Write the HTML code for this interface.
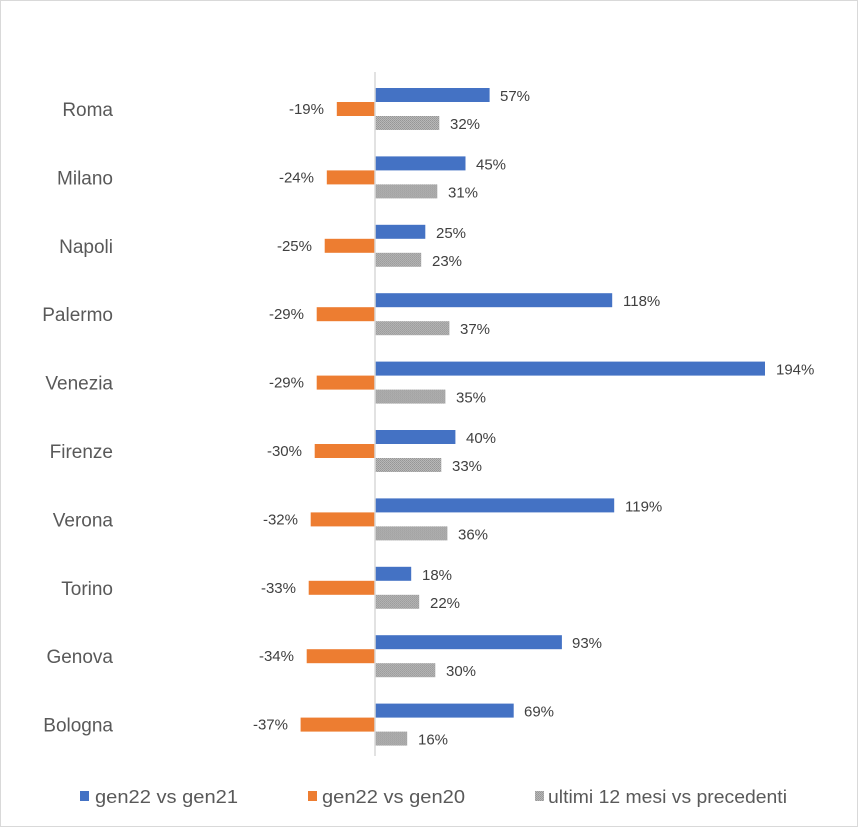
<!DOCTYPE html>
<html><head><meta charset="utf-8"><style>
html,body{margin:0;padding:0;background:#fff}
svg{display:block;font-family:"Liberation Sans",sans-serif}
.c{font-size:19px;fill:#595959;text-anchor:end}
.v{font-size:15px;fill:#404040}
.o{font-size:15px;fill:#404040;text-anchor:end}
.l{font-size:18px;fill:#595959}
</style></head><body>
<svg width="859" height="828" viewBox="0 0 859 828" xmlns="http://www.w3.org/2000/svg">
<defs>
<pattern id="dots" width="2" height="2" patternUnits="userSpaceOnUse">
<rect width="2" height="2" fill="#b8b8b8"/>
<rect x="0" y="0" width="1" height="1" fill="#969696"/>
<rect x="1" y="1" width="1" height="1" fill="#9e9e9e"/>
</pattern>
</defs>
<rect x="0.5" y="0.5" width="857" height="826" fill="#fff" stroke="#d9d9d9"/>
<g transform="translate(0,0)"><text class="c" x="113" y="116">Roma</text><rect x="375" y="88" width="114.6" height="14" fill="#4472c4"/><rect x="336.8" y="102" width="38.2" height="14" fill="#ed7d31"/><rect x="375" y="116" width="64.3" height="14" fill="url(#dots)"/><text class="v" x="500" y="101">57%</text><text class="o" x="324" y="114">-19%</text><text class="v" x="450" y="129">32%</text></g>
<g transform="translate(0,68.4)"><text class="c" x="113" y="116">Milano</text><rect x="375" y="88" width="90.5" height="14" fill="#4472c4"/><rect x="326.8" y="102" width="48.2" height="14" fill="#ed7d31"/><rect x="375" y="116" width="62.3" height="14" fill="url(#dots)"/><text class="v" x="476" y="101">45%</text><text class="o" x="314" y="114">-24%</text><text class="v" x="448" y="129">31%</text></g>
<g transform="translate(0,136.8)"><text class="c" x="113" y="116">Napoli</text><rect x="375" y="88" width="50.3" height="14" fill="#4472c4"/><rect x="324.7" y="102" width="50.3" height="14" fill="#ed7d31"/><rect x="375" y="116" width="46.2" height="14" fill="url(#dots)"/><text class="v" x="436" y="101">25%</text><text class="o" x="312" y="114">-25%</text><text class="v" x="432" y="129">23%</text></g>
<g transform="translate(0,205.2)"><text class="c" x="113" y="116">Palermo</text><rect x="375" y="88" width="237.2" height="14" fill="#4472c4"/><rect x="316.7" y="102" width="58.3" height="14" fill="#ed7d31"/><rect x="375" y="116" width="74.4" height="14" fill="url(#dots)"/><text class="v" x="623" y="101">118%</text><text class="o" x="304" y="114">-29%</text><text class="v" x="460" y="129">37%</text></g>
<g transform="translate(0,273.6)"><text class="c" x="113" y="116">Venezia</text><rect x="375" y="88" width="390" height="14" fill="#4472c4"/><rect x="316.7" y="102" width="58.3" height="14" fill="#ed7d31"/><rect x="375" y="116" width="70.4" height="14" fill="url(#dots)"/><text class="v" x="776" y="101">194%</text><text class="o" x="304" y="114">-29%</text><text class="v" x="456" y="129">35%</text></g>
<g transform="translate(0,342)"><text class="c" x="113" y="116">Firenze</text><rect x="375" y="88" width="80.4" height="14" fill="#4472c4"/><rect x="314.7" y="102" width="60.3" height="14" fill="#ed7d31"/><rect x="375" y="116" width="66.3" height="14" fill="url(#dots)"/><text class="v" x="466" y="101">40%</text><text class="o" x="302" y="114">-30%</text><text class="v" x="452" y="129">33%</text></g>
<g transform="translate(0,410.4)"><text class="c" x="113" y="116">Verona</text><rect x="375" y="88" width="239.2" height="14" fill="#4472c4"/><rect x="310.7" y="102" width="64.3" height="14" fill="#ed7d31"/><rect x="375" y="116" width="72.4" height="14" fill="url(#dots)"/><text class="v" x="625" y="101">119%</text><text class="o" x="298" y="114">-32%</text><text class="v" x="458" y="129">36%</text></g>
<g transform="translate(0,478.8)"><text class="c" x="113" y="116">Torino</text><rect x="375" y="88" width="36.2" height="14" fill="#4472c4"/><rect x="308.7" y="102" width="66.3" height="14" fill="#ed7d31"/><rect x="375" y="116" width="44.2" height="14" fill="url(#dots)"/><text class="v" x="422" y="101">18%</text><text class="o" x="296" y="114">-33%</text><text class="v" x="430" y="129">22%</text></g>
<g transform="translate(0,547.2)"><text class="c" x="113" y="116">Genova</text><rect x="375" y="88" width="186.9" height="14" fill="#4472c4"/><rect x="306.7" y="102" width="68.3" height="14" fill="#ed7d31"/><rect x="375" y="116" width="60.3" height="14" fill="url(#dots)"/><text class="v" x="572" y="101">93%</text><text class="o" x="294" y="114">-34%</text><text class="v" x="446" y="129">30%</text></g>
<g transform="translate(0,615.6)"><text class="c" x="113" y="116">Bologna</text><rect x="375" y="88" width="138.7" height="14" fill="#4472c4"/><rect x="300.6" y="102" width="74.4" height="14" fill="#ed7d31"/><rect x="375" y="116" width="32.2" height="14" fill="url(#dots)"/><text class="v" x="524" y="101">69%</text><text class="o" x="288" y="114">-37%</text><text class="v" x="418" y="129">16%</text></g>
<line x1="375" y1="72" x2="375" y2="756" stroke="#d9d9d9" stroke-width="1.5"/>
<rect x="80" y="791" width="9" height="10" fill="#4472c4"/>
<text class="l" x="95" y="803" textLength="143" lengthAdjust="spacingAndGlyphs">gen22 vs gen21</text>
<rect x="308" y="791" width="9" height="10" fill="#ed7d31"/>
<text class="l" x="322" y="803" textLength="143" lengthAdjust="spacingAndGlyphs">gen22 vs gen20</text>
<rect x="535" y="791" width="9" height="10" fill="url(#dots)"/>
<text class="l" x="548" y="803" textLength="239" lengthAdjust="spacingAndGlyphs">ultimi 12 mesi vs precedenti</text>
</svg>
</body></html>
